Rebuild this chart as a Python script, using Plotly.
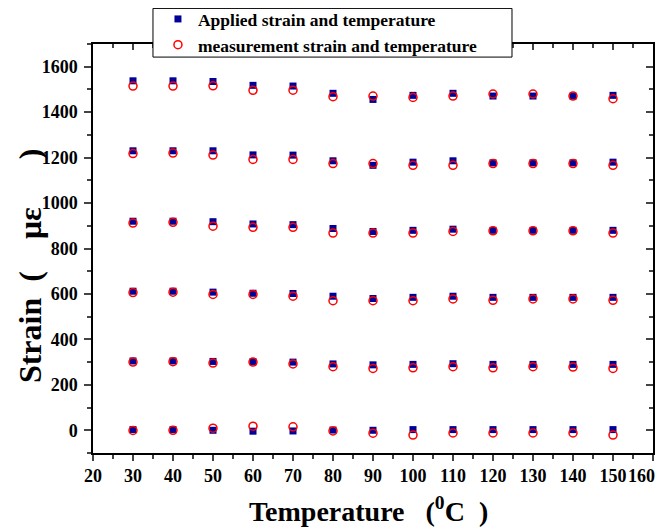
import plotly.graph_objects as go

temperature = [30, 40, 50, 60, 70, 80, 90, 100, 110, 120, 130, 140, 150]

applied_0 = [3, 3, 0, -4, -3, 1, 0, 3, 3, 3, 3, 3, 3]
applied_300 = [305, 305, 303, 302, 300, 292, 288, 290, 293, 290, 290, 290, 290]
applied_600 = [612, 612, 608, 603, 602, 590, 580, 585, 590, 585, 585, 585, 585]
applied_900 = [920, 920, 918, 908, 905, 888, 875, 880, 885, 880, 880, 880, 880]
applied_1200 = [1230, 1230, 1230, 1212, 1211, 1186, 1166, 1180, 1186, 1177, 1177, 1177, 1180]
applied_1500 = [1538, 1538, 1535, 1518, 1515, 1483, 1456, 1474, 1483, 1471, 1471, 1471, 1474]

measured_0 = [-1, 0, 9, 18, 15, -3, -13, -21, -12, -12, -12, -12, -21]
measured_300 = [300, 302, 296, 300, 292, 280, 272, 275, 280, 275, 280, 278, 272]
measured_600 = [606, 608, 598, 598, 590, 570, 570, 570, 578, 572, 578, 578, 572]
measured_900 = [912, 915, 898, 893, 893, 868, 868, 868, 875, 878, 878, 878, 868]
measured_1200 = [1218, 1220, 1211, 1192, 1192, 1174, 1174, 1166, 1166, 1174, 1174, 1174, 1166]
measured_1500 = [1515, 1515, 1516, 1496, 1497, 1468, 1471, 1465, 1471, 1480, 1480, 1471, 1459]

applied_rows = [applied_0, applied_300, applied_600, applied_900, applied_1200, applied_1500]
measured_rows = [measured_0, measured_300, measured_600, measured_900, measured_1200, measured_1500]

NB = "\u00a0"
x_ticks = list(range(20, 161, 10))
x_ticklabels = [str(v) for v in x_ticks]
last_x_label = x_ticklabels[-1]
x_ticklabels[-1] = ""  # drawn separately, nudged left to stay inside the page
y_ticks = list(range(0, 1601, 200))

x_title = "Temperature" + NB * 3 + "(<sup>0</sup>C" + NB * 2 + ")"
y_title = "Strain" + NB * 2 + "(" + NB * 4 + "με" + NB * 6 + ")"

FONT = "Liberation Serif"

ax_x = []
ax_y = []
for row in applied_rows:
    ax_x += temperature
    ax_y += row
mx_x = []
mx_y = []
for row in measured_rows:
    mx_x += temperature
    mx_y += row

fig = go.Figure()
fig.add_trace(go.Scatter(
    x=ax_x, y=ax_y, mode="markers", name="Applied strain and temperature",
    marker=dict(symbol="square", size=7, color="#000099", line=dict(width=0)),
))
fig.add_trace(go.Scatter(
    x=mx_x, y=mx_y, mode="markers", name="measurement strain and temperature",
    marker=dict(symbol="circle-open", size=8, color="#ff0000", line=dict(width=1.5, color="#ff0000")),
))
# dummy trace for mirrored axes (top/right) with inward ticks
fig.add_trace(go.Scatter(x=[None], y=[None], xaxis="x2", yaxis="y2", showlegend=False, hoverinfo="skip"))

# legend frame (white box covering the top axis)
fig.add_shape(type="rect", xref="paper", yref="paper", x0=0.1071, x1=0.7482, y0=0.968, y1=1.087,
              fillcolor="white", line=dict(color="black", width=1), layer="above")

# last x tick label, nudged left
fig.add_annotation(text=last_x_label, xref="paper", yref="paper", x=0.9786, y=-0.0562,
                   xanchor="center", yanchor="middle", showarrow=False,
                   font=dict(family=FONT, size=18, weight="bold", color="black"))

# axis titles
fig.add_annotation(text=x_title, xref="paper", yref="paper", x=0.492, y=-0.137,
                   xanchor="center", yanchor="middle", showarrow=False,
                   font=dict(family=FONT, size=28, weight="bold", color="black"))
fig.add_annotation(text=y_title, xref="paper", yref="paper", x=-0.1125, y=0.457,
                   xanchor="center", yanchor="middle", showarrow=False, textangle=-90,
                   font=dict(family=FONT, size=32, weight="bold", color="black"))

fig.update_layout(
    width=658, height=521,
    margin=dict(l=85, r=13, t=36, b=76, autoexpand=False),
    paper_bgcolor="white", plot_bgcolor="white",
    font=dict(family=FONT, color="black"),
    showlegend=True,
    legend=dict(
        x=0.116, y=1.105, xanchor="left", yanchor="top",
        bgcolor="rgba(0,0,0,0)", borderwidth=0,
        font=dict(family=FONT, size=17.5, weight="bold", color="black"),
        tracegroupgap=0,
    ),
    xaxis=dict(
        range=[20, 160], tickvals=x_ticks, ticktext=x_ticklabels, tickangle=0,
        ticks="outside", ticklen=6, tickwidth=1.5,
        showline=True, linewidth=1.5, linecolor="black", showgrid=False, zeroline=False,
        tickfont=dict(family=FONT, size=18, weight="bold"), automargin=False,
        minor=dict(ticks="outside", ticklen=4, tickwidth=1.5, dtick=5, tick0=20, showgrid=False),
    ),
    yaxis=dict(
        range=[-100, 1700], tickvals=y_ticks, ticks="outside", ticklen=7, tickwidth=1.5,
        showline=True, linewidth=1.5, linecolor="black", showgrid=False, zeroline=False,
        tickfont=dict(family=FONT, size=18, weight="bold"), automargin=False, ticklabelstandoff=3,
        minor=dict(ticks="outside", ticklen=4, tickwidth=1.5, dtick=100, tick0=0, showgrid=False),
    ),
    xaxis2=dict(
        range=[20, 160], overlaying="x", side="top", anchor="y2", tickvals=x_ticks,
        ticks="inside", ticklen=6, tickwidth=1.5, showticklabels=False, automargin=False,
        showline=True, linewidth=1.5, linecolor="black", showgrid=False, zeroline=False,
        minor=dict(ticks="inside", ticklen=4, tickwidth=1.5, dtick=5, tick0=20, showgrid=False),
    ),
    yaxis2=dict(
        range=[-100, 1700], overlaying="y", side="right", anchor="x2", tickvals=y_ticks,
        ticks="inside", ticklen=7, tickwidth=1.5, showticklabels=False, automargin=False,
        showline=True, linewidth=1.5, linecolor="black", showgrid=False, zeroline=False,
        minor=dict(ticks="inside", ticklen=4, tickwidth=1.5, dtick=100, tick0=0, showgrid=False),
    ),
)

fig.write_html("out.html")
